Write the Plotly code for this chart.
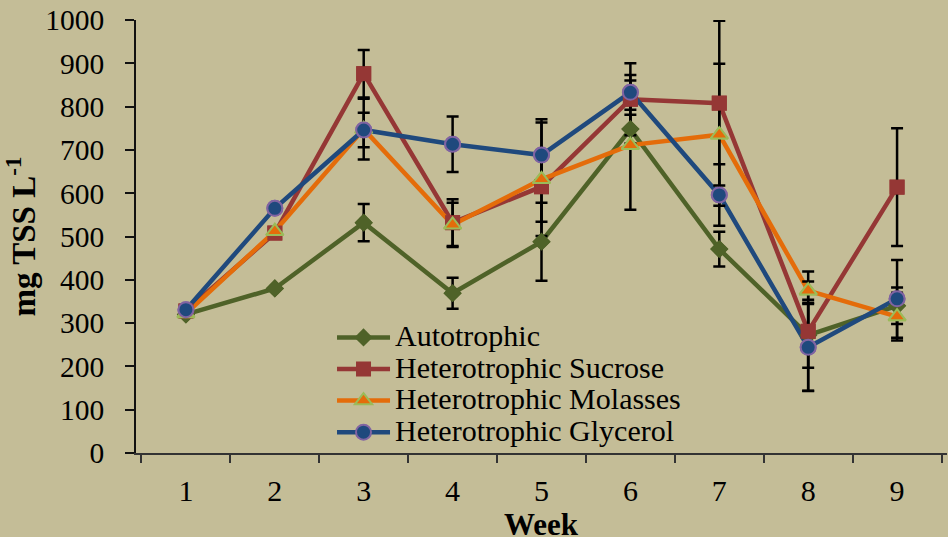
import plotly.graph_objects as go

# Weekly total suspended solids (mg TSS per litre) for each culture condition
weeks = ["1", "2", "3", "4", "5", "6", "7", "8", "9"]

autotrophic = [320, 380, 532, 369, 488, 748, 471, 272, 340]
autotrophic_sd = [None, None, 43, 36, 90, 33, 40, 75, 42]

sucrose = [328, 508, 876, 532, 615, 817, 808, 281, 614]
sucrose_sd = [None, None, 55, 54, 81, 83, 190, 138, 136]

molasses = [322, 512, 748, 527, 632, 711, 735, 375, 315]
molasses_sd = [None, None, 70, 51, 131, 149, 164, 21, 55]

glycerol = [331, 565, 746, 713, 688, 833, 596, 244, 356]
glycerol_sd = [None, None, 40, 64, 83, 40, 71, 100, 90]

series_names = ["Autotrophic", "Heterotrophic Sucrose",
                "Heterotrophic Molasses", "Heterotrophic Glycerol"]

BG = "#C4BD97"
SERIF = "Liberation Serif"

styles = [
    dict(line="#4F6228", symbol="diamond", size=14, fill="#4F6228", edge="#4F6228", edge_w=0),
    dict(line="#953735", symbol="square", size=15, fill="#953735", edge="#953735", edge_w=0),
    dict(line="#E46C0A", symbol="triangle-up", size=15, fill="#E46C0A", edge="#9BBB59", edge_w=2),
    dict(line="#1F497D", symbol="circle", size=15, fill="#1F497D", edge="#8064A2", edge_w=2),
]
values = [autotrophic, sucrose, molasses, glycerol]
errors = [autotrophic_sd, sucrose_sd, molasses_sd, glycerol_sd]

fig = go.Figure()

# Layer 1: connecting lines (these carry the legend entries)
for name, y, st in zip(series_names, values, styles):
    fig.add_trace(go.Scatter(
        x=weeks, y=y, mode="lines+markers",
        name=f'<span style="font-size:30px">{name}</span>',
        line=dict(color=st["line"], width=4.5),
        marker=dict(symbol=st["symbol"], size=st["size"], color=st["fill"],
                    line=dict(color=st["edge"], width=st["edge_w"])),
        hoverinfo="skip",
    ))

# Layer 2: standard-deviation error bars, drawn above every line
for y, err in zip(values, errors):
    fig.add_trace(go.Scatter(
        x=weeks, y=y, mode="markers", showlegend=False,
        marker=dict(size=1, opacity=0),
        error_y=dict(type="data", array=err, visible=True,
                     color="black", thickness=2.5, width=6),
        hoverinfo="skip",
    ))

# Layer 3: markers on top of the error bars
for name, y, st in zip(series_names, values, styles):
    fig.add_trace(go.Scatter(
        x=weeks, y=y, mode="markers", showlegend=False, name=name,
        marker=dict(symbol=st["symbol"], size=st["size"], color=st["fill"],
                    line=dict(color=st["edge"], width=st["edge_w"])),
    ))

fig.update_layout(
    width=948, height=537,
    margin=dict(l=136, r=1, t=20, b=84),
    paper_bgcolor=BG, plot_bgcolor=BG,
    font=dict(family=SERIF, color="black"),
    legend=dict(
        x=0.2417, y=0.315, xanchor="left", yanchor="top",
        itemwidth=53,
        bgcolor="rgba(0,0,0,0)", font=dict(family=SERIF, size=22, color="black"),
        itemclick=False,
    ),
)

# x-axis title sits low, partly below the page edge
fig.add_annotation(
    text="<b>Week</b>", xref="paper", yref="paper", x=0.5, y=-0.12,
    xanchor="center", yanchor="top", showarrow=False,
    font=dict(family=SERIF, size=31, color="black"),
)

fig.update_xaxes(
    type="category", tickson="boundaries", automargin=False,
    ticks="outside", ticklen=8, tickwidth=1.5, tickcolor="#333",
    showline=True, linecolor="#333", linewidth=2,
    showgrid=False,
    tickfont=dict(family=SERIF, size=30),
    ticklabelstandoff=10,
)

fig.update_yaxes(
    range=[0, 1000], dtick=100, automargin=False,
    ticks="outside", ticklen=9, tickwidth=1.5, tickcolor="#111",
    showline=True, linecolor="#111", linewidth=1.5,
    showgrid=False, zeroline=False,
    tickfont=dict(family=SERIF, size=29.5),
    ticklabelstandoff=15,
    title=dict(text="<b>mg TSS L<sup>-1</sup></b>", font=dict(family=SERIF, size=33), standoff=4),
)

fig.write_html("out.html")
